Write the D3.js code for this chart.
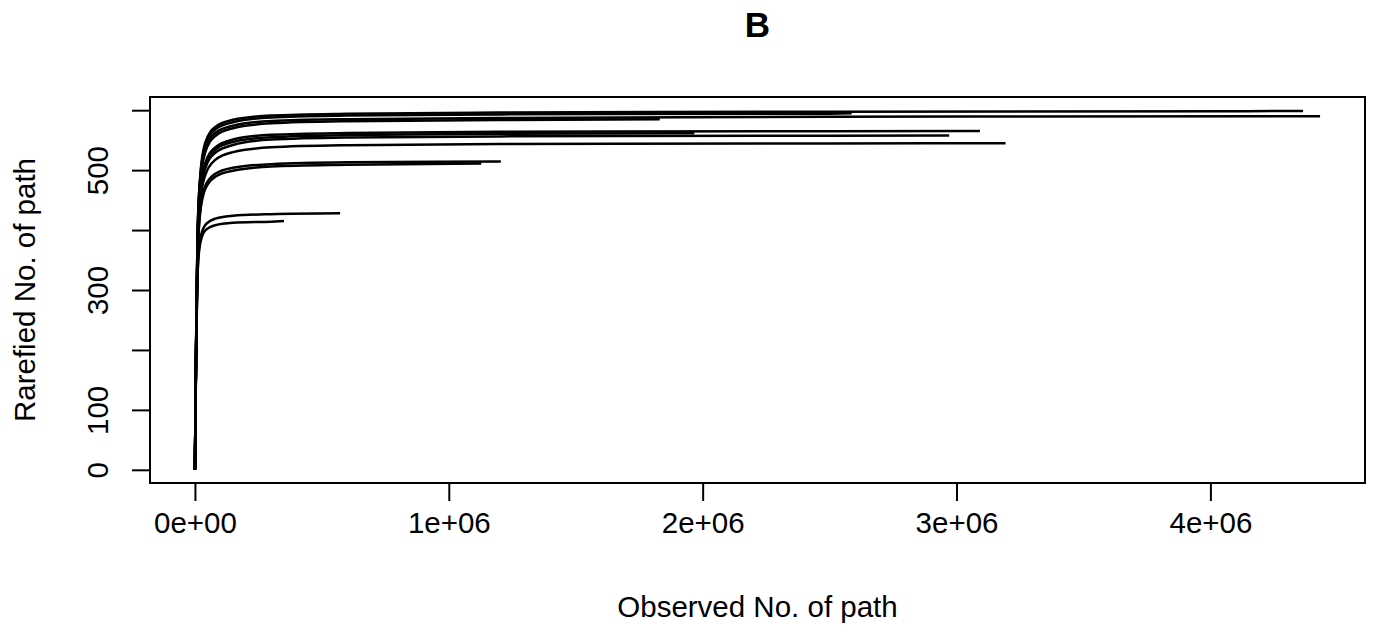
<!DOCTYPE html>
<style>
body { margin: 0; background: #fff; }
text { font-family: "Liberation Sans", Arial, sans-serif; fill: #000; }
</style>
<svg id="rare" width="1374" height="629"></svg>
<script src="https://d3js.org/d3.v7.min.js"></script>
<script>

// sampling depths used for every curve (reads)
var depths = [0, 2000, 5000, 10000, 20000, 40000, 80000, 150000, 300000, 600000, 1200000, 2500000];

// total depth of each sample (end of its curve)
var endDepth = [4365000, 4432000, 2587000, 1831000, 3092000, 1967000, 2971000, 3193000, 1205000, 1128000, 572000, 351000];

// rarefied path counts at the depths above, last value = value at endDepth
var s1  = [0, 95, 225, 385, 486, 545, 572, 584, 591, 594, 596, 597.5, 598.5];
var s2  = [0, 94, 222, 380, 478, 535, 562, 574, 582, 585, 587, 589, 590];
var s3  = [0, 95, 224, 383, 483, 541, 568, 580, 588, 591, 593, 594.2, 594.7];
var s4  = [0, 94, 221, 378, 474, 529, 557, 570, 578, 581.5, 583.5, 584.7];
var s5  = [0, 93, 218, 370, 460, 511, 538, 551, 559, 562, 564, 565, 565.3];
var s6  = [0, 93, 217, 368, 457, 507, 534, 547, 555, 558.5, 560.5, 561.5];
var s7  = [0, 92, 216, 365, 453, 502, 529, 542, 551, 554.5, 556.3, 557.3, 557.6];
var s8  = [0, 92, 214, 360, 445, 491, 517, 530, 538, 541.5, 543.5, 544.5, 544.9];
var s9  = [0, 91, 210, 350, 430, 473, 494, 504, 510, 513, 514.5, 515];
var s10 = [0, 91, 209, 348, 426, 468, 489, 499, 506, 509, 511];
var s11 = [0, 88, 200, 325, 383, 408, 419, 424, 426.5, 428];
var s12 = [0, 88, 199, 322, 376, 399, 408, 412, 414, 415];
var samples = [s1, s2, s3, s4, s5, s6, s7, s8, s9, s10, s11, s12];

var xTicks = [0, 1e6, 2e6, 3e6, 4e6];
var xLabels = ["0e+00", "1e+06", "2e+06", "3e+06", "4e+06"];
var yTicks = [0, 100, 200, 300, 400, 500, 600];
var yLabels = ["0", "100", "", "300", "", "500", ""];

var svg = d3.select("#rare");
var box = {left: 150, right: 1365, top: 97, bottom: 483};

var x = d3.scaleLinear().domain([-177000, 4609000]).range([box.left, box.right]);
var y = d3.scaleLinear().domain([-22, 622]).range([box.bottom, box.top]);

// curves
var line = d3.line()
  .x(function(d) { return x(d[0]); })
  .y(function(d) { return y(d[1]); })
  .curve(d3.curveMonotoneX);

var curves = samples.map(function(vals, i) {
  var pts = [];
  for (var k = 0; k < vals.length - 1; k++) pts.push([depths[k], vals[k]]);
  pts.push([endDepth[i], vals[vals.length - 1]]);
  return pts;
});

svg.append("g").selectAll("path")
  .data(curves)
  .enter().append("path")
    .attr("d", line)
    .attr("fill", "none")
    .attr("stroke", "#000")
    .attr("stroke-width", 2.5);

// frame
svg.append("rect")
  .attr("x", box.left).attr("y", box.top)
  .attr("width", box.right - box.left).attr("height", box.bottom - box.top)
  .attr("fill", "none").attr("stroke", "#000").attr("stroke-width", 2);

// x axis
var gx = svg.append("g")
  .attr("transform", "translate(0," + box.bottom + ")")
  .call(d3.axisBottom(x).tickValues(xTicks).tickSize(18).tickPadding(10)
    .tickFormat(function(d, i) { return xLabels[i]; }));
gx.select(".domain").attr("d", "M" + x(xTicks[0]) + ",0H" + x(xTicks[xTicks.length - 1])).attr("stroke-width", 2);
gx.selectAll(".tick line").attr("stroke-width", 2);
gx.selectAll(".tick text").attr("font-size", 29.5).attr("font-family", "Liberation Sans, Arial, sans-serif")
  .attr("y", 50).attr("dy", 0);

// y axis
var gy = svg.append("g")
  .attr("transform", "translate(" + box.left + ",0)")
  .call(d3.axisLeft(y).tickValues(yTicks).tickSize(18)
    .tickFormat(function(d, i) { return yLabels[i]; }));
gy.select(".domain").attr("d", "M0," + y(yTicks[0]) + "V" + y(yTicks[yTicks.length - 1])).attr("stroke-width", 2);
gy.selectAll(".tick line").attr("stroke-width", 2);
gy.selectAll(".tick text")
  .attr("font-size", 29.5).attr("font-family", "Liberation Sans, Arial, sans-serif")
  .attr("x", null).attr("dy", 0)
  .attr("text-anchor", "middle")
  .attr("transform", "translate(-42,0) rotate(-90)");

// titles
svg.append("text")
  .attr("x", (box.left + box.right) / 2).attr("y", 37)
  .attr("text-anchor", "middle").attr("font-size", 35).attr("font-weight", "bold")
  .text("B");

svg.append("text")
  .attr("x", (box.left + box.right) / 2).attr("y", 617)
  .attr("text-anchor", "middle").attr("font-size", 29.5)
  .text("Observed No. of path");

svg.append("text")
  .attr("transform", "translate(35," + (box.top + box.bottom) / 2 + ") rotate(-90)")
  .attr("text-anchor", "middle").attr("font-size", 29.5)
  .text("Rarefied No. of path");

</script>
